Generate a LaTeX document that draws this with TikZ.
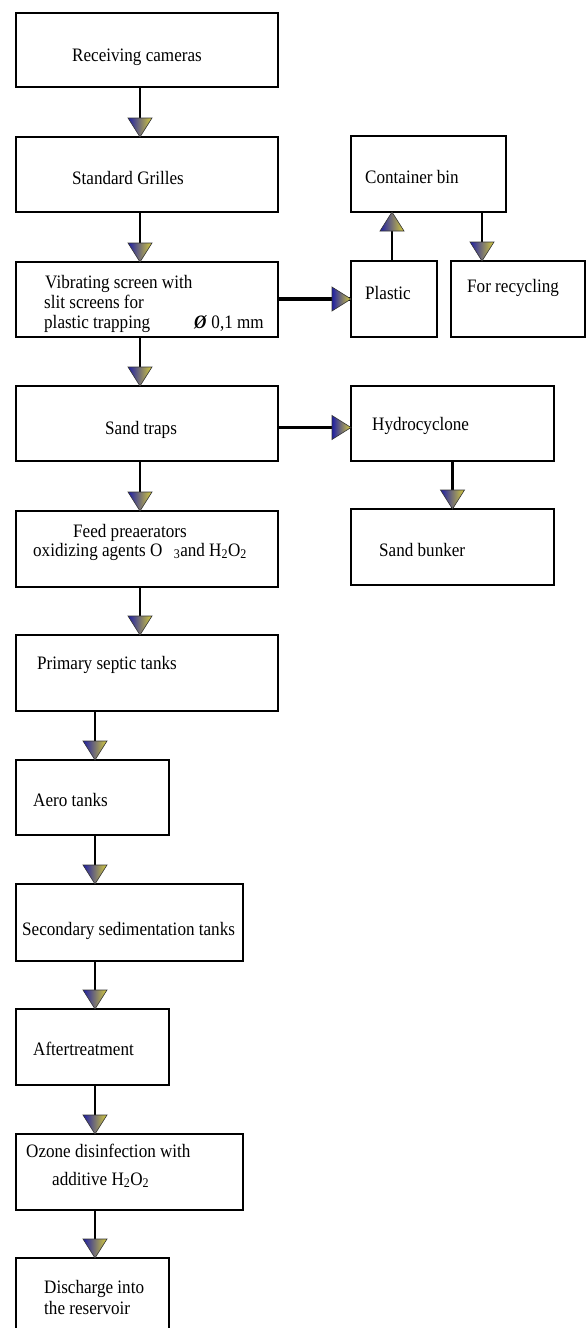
\documentclass[tikz,border=0pt]{standalone}
\usepackage{fontspec}
\setmainfont{Liberation Serif}[FakeStretch=0.9]
\usepackage{tikz}
\usetikzlibrary{decorations.markings}

\definecolor{tipblue}{RGB}{30,30,165}
\definecolor{tipyellow}{RGB}{215,205,60}

\tikzset{
    stage/.style={draw, line width=2.8pt, anchor=north west, inner sep=0pt, outer sep=0pt},
    txt/.style={anchor=base west, inner sep=0pt, font=\fontsize{19}{20}\selectfont},
    tipfill/.style={draw=black!80, line width=0.6pt, left color=tipblue, right color=tipyellow},
    flow/.style={line width=2.6pt, postaction={decorate},
        decoration={markings, mark=at position 1 with {
            \shadedraw[tipfill] (0pt,0pt) -- (-19pt,12pt) -- (-19pt,-12pt) -- cycle;}}},
    side/.style={flow, line width=3.6pt}
}

\begin{document}
\begin{tikzpicture}[x=1pt, y=-1pt]

    \fill[white] (0,0) rectangle (586,1328);
    \useasboundingbox (0,0) rectangle (586,1328);

    % Draw Boxes
    \foreach \nm/\xa/\ya/\xb/\yb in {recv/16/13/278/87, grill/16/137/278/212,
        vib/16/262/278/337, cont/351/136/506/212, plast/351/261/437/337,
        recyc/451/261/585/337, sand/16/386/278/461, hydro/351/386/554/461,
        feed/16/511/278/587, bunk/351/509/554/585, prim/16/635/278/711,
        aero/16/760/169/835, sec/16/884/243/961, after/16/1009/169/1085,
        ozone/16/1134/243/1210, disch/16/1258/169/1345}{
        \pgfmathsetmacro\bw{\xb-\xa}
        \pgfmathsetmacro\bh{\yb-\ya}
        \node[stage, minimum width=\bw pt, minimum height=\bh pt] (\nm) at (\xa,\ya) {};
    }

    % Add Labels
    \node[txt] (l1) at (72,61) {Receiving cameras};
    \node[txt] (l2) at (72,184) {Standard Grilles};
    \node[txt] (l3a) at (45,288) {Vibrating screen with};
    \node[txt] (l3b) at (44,308) {slit screens for};
    \node[txt] (l3c) at (44,328) {plastic trapping};
    \node[txt] (l3d) at (194,328) {\textbf{\textit{Ø}} 0,1 mm};
    \node[txt] (l4) at (365,183) {Container bin};
    \node[txt] (l5) at (365,299) {Plastic};
    \node[txt] (l6) at (467,292) {For recycling};
    \node[txt] (l7) at (105,434) {Sand traps};
    \node[txt] (l8) at (372,430) {Hydrocyclone};
    \node[txt] (l9) at (379,556) {Sand bunker};
    \node[txt] (l10a) at (73,537) {Feed preaerators};
    \node[txt] (l10b) at (33,556) {oxidizing agents O\hspace{0.6em}\textsubscript{3}and H\textsubscript{2}O\textsubscript{2}};
    \node[txt] (l11) at (37,669) {Primary septic tanks};
    \node[txt] (l12) at (33,806) {Aero tanks};
    \node[txt] (l13) at (22,935) {Secondary sedimentation tanks};
    \node[txt] (l14) at (33,1055) {Aftertreatment};
    \node[txt] (l15a) at (26,1157) {Ozone disinfection with};
    \node[txt] (l15b) at (52,1185) {additive H\textsubscript{2}O\textsubscript{2}};
    \node[txt] (l16a) at (44,1293) {Discharge into};
    \node[txt] (l16b) at (44,1314) {the reservoir};

    % Draw Flows
    \coordinate (colA) at (140,0);
    \coordinate (colB) at (95,0);
    \coordinate (colC) at (392,0);
    \coordinate (colD) at (482,0);
    \draw[flow] (recv.south -| colA) -- (grill.north -| colA);
    \draw[flow] (grill.south -| colA) -- (vib.north -| colA);
    \draw[flow] (vib.south -| colA) -- (sand.north -| colA);
    \draw[flow] (sand.south -| colA) -- (feed.north -| colA);
    \draw[flow] (feed.south -| colA) -- (prim.north -| colA);
    \draw[flow] (prim.south -| colB) -- (aero.north -| colB);
    \draw[flow] (aero.south -| colB) -- (sec.north -| colB);
    \draw[flow] (sec.south -| colB) -- (after.north -| colB);
    \draw[flow] (after.south -| colB) -- (ozone.north -| colB);
    \draw[flow] (ozone.south -| colB) -- (disch.north -| colB);
    \draw[side] (vib.east |- plast.west) -- (plast.west);
    \draw[side] ([yshift=-4pt]sand.east) -- ([yshift=-4pt]hydro.west);
    \draw[flow] (plast.north -| colC) -- (cont.south -| colC);
    \draw[flow] (cont.south -| colD) -- (recyc.north -| colD);
    \draw[flow] (hydro) -- (bunk);
\end{tikzpicture}
\end{document}
